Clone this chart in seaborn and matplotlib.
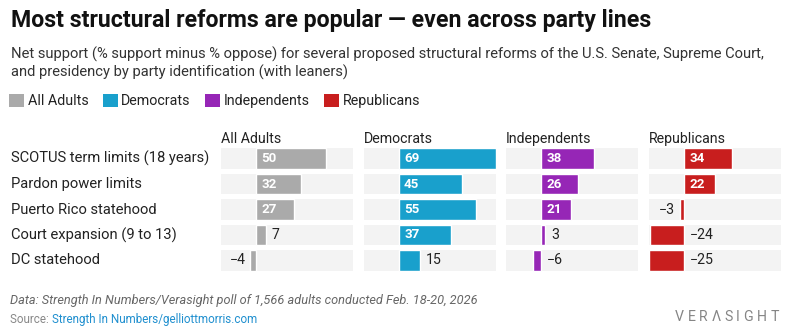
import matplotlib
matplotlib.use("Agg")
import matplotlib.pyplot as plt
import matplotlib.transforms as mtransforms
from matplotlib.patches import Patch
import pandas as pd
import seaborn as sns

# ---- data -------------------------------------------------------------
reforms = [
    "SCOTUS term limits (18 years)",
    "Pardon power limits",
    "Puerto Rico statehood",
    "Court expansion (9 to 13)",
    "DC statehood",
]
groups = ["All Adults", "Democrats", "Independents", "Republicans"]
all_adults = [50, 32, 27, 7, -4]
democrats = [69, 45, 55, 37, 15]
independents = [38, 26, 21, 3, -6]
republicans = [34, 22, -3, -24, -25]
colors = ["#aaaaaa", "#19a0cc", "#9626b6", "#c81e1e"]

values = {"All Adults": all_adults, "Democrats": democrats,
          "Independents": independents, "Republicans": republicans}
df = pd.DataFrame([
    {"group": g, "reform": r, "value": v}
    for g in groups for r, v in zip(reforms, values[g])
])

# ---- figure setup -----------------------------------------------------
W, H = 791, 335
sns.set_theme(style="white")
plt.rcParams["font.family"] = ["Roboto", "DejaVu Sans"]
fig = plt.figure(figsize=(W / 100, H / 100), dpi=100)
fig.patch.set_facecolor("white")


def fx(x):
    return x / W


def fy(y):
    return 1 - y / H


PT = 72 / 100  # points per pixel

# title block
fig.text(fx(11), fy(27), "Most structural reforms are popular \u2014 even across party lines",
         fontsize=16.7, fontweight="bold", color="#111111", va="baseline", ha="left")
fig.text(fx(11), fy(59),
         "Net support (% support minus % oppose) for several proposed structural reforms of the U.S. Senate, Supreme Court,",
         fontsize=10.63, color="#333333", va="baseline", ha="left")
fig.text(fx(11), fy(77), "and presidency by party identification (with leaners)",
         fontsize=10.63, color="#333333", va="baseline", ha="left")

# legend
handles = [Patch(facecolor=c, edgecolor="none", label=g) for g, c in zip(groups, colors)]
fig.legend(handles=handles, loc="center left", bbox_to_anchor=(fx(9), fy(101)),
           ncol=4, frameon=False, fontsize=10.3, handlelength=1.05, handleheight=1.0,
           handletextpad=0.25, columnspacing=1.0, borderaxespad=0, borderpad=0,
           labelcolor="#222222")

# ---- panels -----------------------------------------------------------
lo = min(df["value"])
hi = max(df["value"])
panel_left = [221, 364, 506, 649]
panel_w = 132
top_px, bot_px = 145.75, 273.25
n = len(reforms)
axes = []
for g, c, left in zip(groups, colors, panel_left):
    ax = fig.add_axes([fx(left), fy(bot_px), panel_w / W, (bot_px - top_px) / H])
    sub = df[df["group"] == g]
    for i in range(n):
        ax.axhspan(i - 0.41, i + 0.41, color="#f3f3f3", zorder=0, lw=0)
    sns.barplot(data=sub, x="value", y="reform", order=reforms, color=c,
                width=0.82, errorbar=None, ax=ax, zorder=2, saturation=1)
    ax.set_xlim(lo, hi)
    ax.set_ylim(n - 0.5, -0.5)
    ax.set_axis_off()
    ax.text(0, 1.0, g, transform=ax.transAxes, fontsize=10.2, color="#222222",
            ha="left", va="bottom")
    for i, v in enumerate(sub["value"]):
        label = f"{v}" if v >= 0 else f"\u2212{abs(v)}"
        if v >= 20:
            ax.annotate(label, (0, i), xytext=(5 * PT, 0), textcoords="offset points",
                        ha="left", va="center", fontsize=9.6, fontweight="bold",
                        color="white", zorder=3)
        elif v >= 0:
            ax.annotate(label, (v, i), xytext=(6 * PT, 0), textcoords="offset points",
                        ha="left", va="center", fontsize=10.2, color="#222222", zorder=3)
        elif v > -5:
            ax.annotate(label, (v, i), xytext=(-5 * PT, 0), textcoords="offset points",
                        ha="right", va="center", fontsize=10.2, color="#222222", zorder=3)
        else:
            ax.annotate(label, (0, i), xytext=(6 * PT, 0), textcoords="offset points",
                        ha="left", va="center", fontsize=10.2, color="#222222", zorder=3)
    axes.append(ax)

# row labels
row_tr = mtransforms.blended_transform_factory(fig.transFigure, axes[0].transData)
for i, r in enumerate(reforms):
    fig.text(fx(11), i, r, transform=row_tr, fontsize=10.6, color="#222222",
             ha="left", va="center")

# ---- footer -----------------------------------------------------------
fig.text(fx(10), fy(304),
         "Data: Strength In Numbers/Verasight poll of 1,566 adults conducted Feb. 18-20, 2026",
         fontsize=9.2, fontstyle="italic", color="#666666", ha="left", va="baseline")
src = fig.text(fx(10), fy(323), "Source: ", fontsize=8.4, color="#888888",
               ha="left", va="baseline")
renderer = fig.canvas.get_renderer()
bb = src.get_window_extent(renderer)
fig.text(bb.x1 / W, fy(323), "Strength In Numbers/gelliottmorris.com", fontsize=8.4,
         color="#1f8fcf", ha="left", va="baseline")

# wordmark, letter-spaced
x = 675
for ch in "VER\u039bSIGHT":
    t = fig.text(fx(x), fy(321), ch, fontsize=10.2, color="#858585",
                 ha="left", va="baseline")
    x += t.get_window_extent(renderer).width + 3.6

fig.savefig("out.png", dpi=100, facecolor="white")
